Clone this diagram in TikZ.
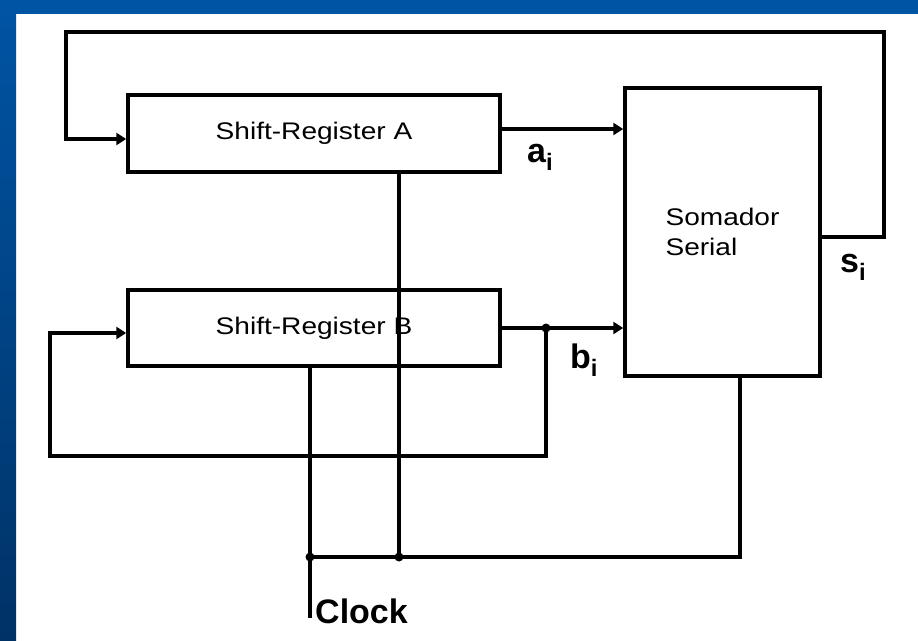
\documentclass[tikz,border=0pt]{standalone}
\usepackage{fontspec}
\setmainfont{Liberation Sans}
\newfontfamily\regfont{Liberation Sans}[FakeStretch=1.17]
\usetikzlibrary{arrows.meta}

\definecolor{moldura}{RGB}{0,84,164}
\definecolor{molduraesc}{RGB}{0,50,102}

\tikzset{
  reg/.style={draw, line width=3.5pt, font=\regfont\fontsize{24}{30}\selectfont},
  fio/.style={line width=3.5pt},
  seta/.style={fio, -{Triangle[length=10pt,width=12pt]}},
  rot/.style={font=\bfseries\fontsize{34}{40}\selectfont, inner sep=0pt},
}

\begin{document}
\begin{tikzpicture}[x=1pt,y=-1pt]
  \useasboundingbox (0,0) rectangle (918,640);

  % Moldura
  \fill[white] (0,0) rectangle (918,640);
  \shade[top color=moldura, bottom color=molduraesc] (0,0) rectangle (16,640);
  \fill[moldura] (0,0) rectangle (918,14);

  % Blocos
  \node[reg, minimum width=372pt, minimum height=77pt] (regA) at (314,133.5) {Shift-Register A};
  \node[reg, minimum width=372pt, minimum height=76pt] (regB) at (314,328) {Shift-Register B};
  \node[reg, minimum width=195pt, minimum height=288pt, align=left] (soma) at (722.5,232) {Somador\\Serial};

  % Pontos de ligacao
  \coordinate (sS) at (884,237);
  \coordinate (nB) at (546,328);
  \coordinate (nC1) at (310,557);
  \coordinate (nC2) at (399,557);

  % Entradas do somador
  \draw[seta] (regA.east |- 0,129) -- (soma.west |- 0,129);
  \draw[seta] (regB.east |- 0,328) -- (soma.west |- 0,328);

  % Realimentacao de A (soma)
  \draw[seta] (soma.east |- sS) -- (sS) |- (66,32) |- (regA.west |- 0,139);

  % Realimentacao de B
  \draw[seta] (nB) -- (546,456) -| (50,333) -- (regB.west |- 0,333);
  \fill (nB) circle (4.5pt);

  % Clock
  \draw[fio] (regB.south -| nC1) -- (310,618);
  \draw[fio] (regA.south -| nC2) -- (nC2);
  \draw[fio] (nC1) -| (soma.south -| 740,0);
  \foreach \p in {nC1,nC2}
    \fill (\p) circle (4.5pt);

  % Rotulos
  \node[rot, anchor=base west] (la) at (527,162) {a\textsubscript{i}};
  \node[rot, anchor=base west] (lb) at (570,368) {b\textsubscript{i}};
  \node[rot, anchor=base west] (ls) at (840,272) {s\textsubscript{i}};
  \node[rot, anchor=base west] (lclk) at (315,623) {Clock};
\end{tikzpicture}
\end{document}
